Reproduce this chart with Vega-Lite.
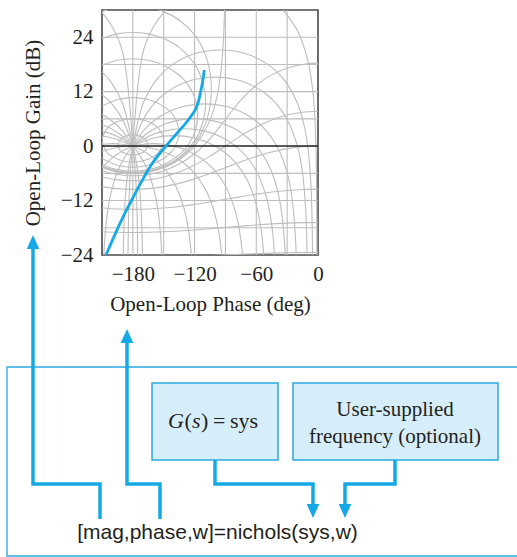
{
  "$schema": "https://vega.github.io/schema/vega-lite/v6.json",
  "width": 216,
  "height": 245,
  "autosize": {"type": "none"},
  "padding": {"left": 102, "top": 10, "right": 199, "bottom": 302},
  "background": "white",
  "config": {
    "view": {"stroke": "#4a4a4a", "strokeWidth": 1.6},
    "axis": {"labelFont": "Liberation Serif", "titleFont": "Liberation Serif", "labelColor": "#231f20", "titleColor": "#231f20", "titleFontWeight": "normal"}
  },
  "datasets": {
    "vgrid": [{"ph": -180}, {"ph": -150}, {"ph": -120}, {"ph": -90}, {"ph": -60}, {"ph": -30}],
    "hgrid": [{"db": -18}, {"db": -12}, {"db": -6}, {"db": 6}, {"db": 12}, {"db": 18}, {"db": 24}],
    "zero": [{"db": 0}],
    "contours": [
      {"c": "m-1", "ph": [-210,-195,-180,-165,-150,-135,-120,-105,-90,-75,-60,-45,-30,-15,0], "db": [-5.44,-6.27,-6.53,-6.27,-5.44,-3.96,-1.68,1.62,5.87,10.11,13.42,15.70,17.18,18.00,18.28]},
      {"c": "m-3", "ph": [-210,-195,-180,-165,-150,-135,-120,-105,-90,-75,-60,-45,-30,-15,0], "db": [-6.80,-7.44,-7.65,-7.44,-6.80,-5.71,-4.17,-2.21,0.02,2.25,4.21,5.75,6.84,7.48,7.69]},
      {"c": "m-6", "ph": [-210,-195,-180,-165,-150,-135,-120,-105,-90,-75,-60,-45,-30,-15,0], "db": [-8.93,-9.38,-9.53,-9.38,-8.93,-8.21,-7.22,-6.04,-4.74,-3.45,-2.26,-1.28,-0.55,-0.11,0.04]},
      {"c": "m-12", "ph": [-210,-195,-180,-165,-150,-135,-120,-105,-90,-75,-60,-45,-30,-15,0], "db": [-13.65,-13.87,-13.95,-13.87,-13.65,-13.30,-12.84,-12.30,-11.72,-11.13,-10.59,-10.13,-9.78,-9.56,-9.49]},
      {"c": "m-18", "ph": [-210,-195,-180,-165,-150,-135,-120,-105,-90,-75,-60,-45,-30,-15,0], "db": [-18.88,-18.99,-19.03,-18.99,-18.88,-18.71,-18.48,-18.22,-17.93,-17.64,-17.38,-17.15,-16.98,-16.87,-16.83]},
      {"c": "m-24", "ph": [-210,-195,-180,-165,-150,-135,-120,-105,-90,-75,-60,-45,-30,-15,0], "db": [-24.46,-24.51,-24.53,-24.51,-24.46,-24.37,-24.26,-24.12,-23.98,-23.84,-23.71,-23.59,-23.51,-23.45,-23.43]},
      {"c": "m0", "ph": [-210,-195,-180,-165,-150,-135,-120,-105,-100,-95,-92,-91,-90.8], "db": [-4.77,-5.72,-6.02,-5.72,-4.77,-3.01,0,5.72,9.19,15.17,23.13,29.14,31.1]},
      {"c": "m0.25", "ph": [-210,-195,-180,-165,-150,-135,-120,-110,-105,-103.7,-105,-110,-120,-135,-150,-165,-180,-195,-210], "db": [-4.60,-5.58,-5.89,-5.58,-4.60,-2.77,0.54,4.60,8.78,12.52,16.25,20.44,24.51,27.80,29.64,30.63,30.94,30.63,29.64]},
      {"c": "m0.5", "ph": [-210,-195,-180,-165,-150,-135,-120,-115,-110,-109.25,-110,-115,-120,-135,-150,-165,-180,-195,-210], "db": [-4.44,-5.47,-5.78,-5.47,-4.44,-2.50,1.15,3.26,7.27,9.63,12.00,16.01,18.12,21.77,23.71,24.73,25.05,24.73,23.71]},
      {"c": "m1", "ph": [-210,-195,-180,-165,-150,-135,-130,-125,-120,-116.97,-120,-125,-130,-135,-150,-165,-180,-195,-210], "db": [-4.10,-5.19,-5.53,-5.19,-4.10,-1.94,-0.82,0.68,2.97,6.87,10.77,13.06,14.55,15.67,17.84,18.93,19.27,18.93,17.84]},
      {"c": "m3", "ph": [-210,-195,-180,-165,-150,-145,-140,-135.07,-140,-145,-150,-165,-180,-195,-210], "db": [-2.72,-4.22,-4.65,-4.22,-2.72,-1.83,-0.53,3.02,6.57,7.87,8.76,10.26,10.69,10.26,8.76]},
      {"c": "m6", "ph": [-210,-205,-200,-195,-180,-165,-160,-155,-150,-149.9,-150,-155,-160,-165,-180,-195,-200,-205,-210,-210.1,-210], "db": [0.91,-1.41,-2.32,-2.89,-3.53,-2.89,-2.32,-1.41,0.91,1.26,1.60,3.92,4.83,5.41,6.04,5.41,4.83,3.92,1.60,1.26,0.91]},
      {"c": "m12", "ph": [-165.5,-167,-170,-180,-190,-193,-194.5,-193,-190,-180,-170,-167,-165.5], "db": [0.28,1.28,1.90,2.51,1.90,1.28,0.28,-0.72,-1.33,-1.95,-1.33,-0.72,0.28]},
      {"c": "n1", "ph": [-180,-170,-160,-150,-145,-120,-91,-60,-35,-30,-20,-10,-5,-3,-2,-1.5,-1.1,-1.06], "db": [0,20.77,26.25,29.40,30.55,34.0,35.16,33.8,30.11,28.87,25.42,19.05,12.03,6.02,0,-6.02,-20,-25]},
      {"c": "n1m", "ph": [-180,-190,-200,-210,-215], "db": [0,20.77,26.25,29.40,30.55]},
      {"c": "n5", "ph": [-180,-170,-160,-150,-140,-130,-120,-110,-95,-80,-70,-60,-50,-40,-30,-20,-15,-10,-7,-6,-5.5,-5.3], "db": [0,9.45,13.71,16.37,18.18,19.46,20.34,20.89,21.19,20.89,20.34,19.46,18.18,16.37,13.71,9.45,5.99,0,-7.95,-13.97,-19.99,-24.43]},
      {"c": "n5m", "ph": [-180,-190,-200,-210,-220], "db": [0,9.45,13.71,16.37,18.18]},
      {"c": "n10", "ph": [-180,-170,-160,-150,-140,-130,-120,-100,-80,-70,-60,-50,-40,-30,-20,-15,-12,-11,-10.6], "db": [0,5.89,9.19,11.37,12.89,13.96,14.67,15.21,14.67,13.96,12.89,11.37,9.19,5.89,0,-5.99,-13.94,-19.96,-24.39]},
      {"c": "n10m", "ph": [-180,-190,-200,-210,-220], "db": [0,5.89,9.19,11.37,12.89]},
      {"c": "n20", "ph": [-180,-170,-160,-150,-140,-130,-110,-90,-80,-70,-60,-50,-40,-30,-25,-22,-21.2], "db": [0,3.30,5.48,7.00,8.07,8.78,9.32,8.78,8.07,7.00,5.48,3.30,0,-5.89,-11.87,-19.83,-24.26]},
      {"c": "n20m", "ph": [-180,-190,-200,-210,-220], "db": [0,3.30,5.48,7.00,8.07]},
      {"c": "n30", "ph": [-180,-165,-150,-135,-120,-105,-90,-75,-60,-50,-45,-40,-35,-32,-31.8], "db": [0,3.01,4.77,5.72,6.02,5.72,4.77,3.01,0,-3.30,-5.72,-9.19,-15.17,-23.12,-24.04]},
      {"c": "n30m", "ph": [-180,-195,-210,-225], "db": [0,3.01,4.77,5.72]},
      {"c": "n40", "ph": [-180,-165,-150,-130,-110,-95,-80,-70,-60,-50,-45,-43,-42], "db": [0,2.11,3.30,3.84,3.30,2.11,0,-2.18,-5.48,-11.37,-17.35,-21.79,-25.3]},
      {"c": "n40m", "ph": [-180,-195,-210,-230], "db": [0,2.11,3.30,3.84]},
      {"c": "n50", "ph": [-180,-160,-140,-120,-100,-90,-80,-70,-65,-60,-55,-53,-52.5], "db": [0,1.78,2.32,1.78,0,-1.52,-3.71,-7.00,-9.42,-12.89,-18.88,-23.31,-24.9]},
      {"c": "n50m", "ph": [-180,-200,-210,-220], "db": [0,1.78,2.18,2.32]},
      {"c": "n70", "ph": [-180,-170,-160,-150,-140,-130,-120,-110,-100,-90,-80,-75,-73], "db": [0,0.41,0.54,0.41,0,-0.71,-1.78,-3.30,-5.48,-8.78,-14.67,-20.65,-25.1]},
      {"c": "n70m", "ph": [-180,-190,-200,-210], "db": [0,0.41,0.54,0.41]},
      {"c": "n90", "ph": [-180,-170,-160,-150,-140,-130,-120,-110,-105,-100,-96,-94,-93.5], "db": [0,-0.13,-0.54,-1.25,-2.32,-3.84,-6.02,-9.32,-11.74,-15.21,-19.62,-23.13,-24.3]},
      {"c": "n90m", "ph": [-180,-190,-200,-210], "db": [0,-0.13,-0.54,-1.25]},
      {"c": "n120", "ph": [-180,-170,-160,-150,-140,-135,-130,-126,-124,-123], "db": [0,-1.07,-2.59,-4.77,-8.07,-10.49,-13.96,-18.37,-21.88,-24.38]},
      {"c": "n120m", "ph": [-180,-190,-200,-210,-220], "db": [0,-1.07,-2.59,-4.77,-8.07]},
      {"c": "n150", "ph": [-180,-175,-170,-165,-160,-157,-155,-153,-152,-151.8], "db": [0,-1.46,-3.30,-5.72,-9.19,-12.26,-15.17,-19.60,-23.12,-24.1]},
      {"c": "n150m", "ph": [-180,-185,-190,-195,-200,-203,-205,-207,-208,-208.2], "db": [0,-1.46,-3.30,-5.72,-9.19,-12.26,-15.17,-19.60,-23.12,-24.1]},
      {"c": "n170", "ph": [-180,-178,-176,-174,-172,-171,-170.6], "db": [0,-1.92,-4.41,-7.92,-13.94,-19.96,-24.4]},
      {"c": "n170m", "ph": [-180,-182,-184,-186,-188,-189,-189.4], "db": [0,-1.92,-4.41,-7.92,-13.94,-19.96,-24.4]},
      {"c": "n175", "ph": [-180,-179,-178,-177,-176,-175.5,-175.3], "db": [0,-1.93,-4.44,-7.95,-13.97,-19.99,-24.4]},
      {"c": "n175m", "ph": [-180,-181,-182,-183,-184,-184.5,-184.7], "db": [0,-1.93,-4.44,-7.95,-13.97,-19.99,-24.4]}
    ],
    "response": [
      {"ph": -110.5, "db": 16.78}, {"ph": -113.1, "db": 13.09}, {"ph": -117.9, "db": 8.68},
      {"ph": -126.1, "db": 5.76}, {"ph": -135.8, "db": 3.18}, {"ph": -147.8, "db": 0.02},
      {"ph": -160.1, "db": -3.44}, {"ph": -169.8, "db": -7.10}, {"ph": -181.1, "db": -11.88},
      {"ph": -192.5, "db": -17.01}, {"ph": -206.1, "db": -24.0}
    ],
    "frame": [{"x": 7, "x2": 600, "y": 367, "y2": 556}],
    "boxes": [{"x": 152, "x2": 278, "y": 383, "y2": 460}, {"x": 293, "x2": 498, "y": 383, "y2": 460}],
    "paths": [
      {"p": "mag", "x": 100, "y": 519}, {"p": "mag", "x": 100, "y": 484}, {"p": "mag", "x": 33, "y": 484}, {"p": "mag", "x": 33, "y": 246},
      {"p": "phase", "x": 160, "y": 519}, {"p": "phase", "x": 160, "y": 484}, {"p": "phase", "x": 127, "y": 484}, {"p": "phase", "x": 127, "y": 340},
      {"p": "sys", "x": 215, "y": 460}, {"p": "sys", "x": 215, "y": 484}, {"p": "sys", "x": 313, "y": 484}, {"p": "sys", "x": 313, "y": 507},
      {"p": "w", "x": 395, "y": 460}, {"p": "w", "x": 395, "y": 484}, {"p": "w", "x": 345, "y": 484}, {"p": "w", "x": 345, "y": 507}
    ],
    "arrowsUp": [{"x": 33, "y": 242}, {"x": 127, "y": 336}],
    "arrowsDown": [{"x": 313, "y": 511}, {"x": 345, "y": 511}],
    "boxText": [{"t": "User-supplied", "x": 395, "y": 416}, {"t": "frequency (optional)", "x": 395, "y": 443}],
    "gsUpright": [{"t": "(", "x": 184.5, "y": 427.5}, {"t": ")", "x": 201, "y": 427.5}, {"t": "=", "x": 213, "y": 427.5}, {"t": "sys", "x": 230, "y": 427.5}],
    "gsItalic": [{"t": "G", "x": 168, "y": 427.5}, {"t": "s", "x": 192, "y": 427.5}],
    "cmd": [{"t": "[mag,phase,w]=nichols(sys,w)", "x": 217.5, "y": 538.5}]
  },
  "layer": [
    {
      "layer": [
        {
          "data": {"name": "vgrid"},
          "mark": {"type": "rule", "color": "#bdbdbd", "strokeWidth": 1.1},
          "encoding": {
            "x": {"field": "ph", "type": "quantitative", "scale": {"domain": [-210, 0], "nice": false, "zero": false}, "axis": {"title": "Open-Loop Phase (deg)", "values": [-180, -120, -60, 0], "grid": false, "ticks": false, "domain": false, "labelFontSize": 21, "labelPadding": 8, "labelFlush": false, "labelOverlap": false, "titleFontSize": 21, "titleY": 55.5, "titleBaseline": "alphabetic"}}
          }
        },
        {
          "data": {"name": "hgrid"},
          "mark": {"type": "rule", "color": "#bdbdbd", "strokeWidth": 1.1},
          "encoding": {
            "y": {"field": "db", "type": "quantitative", "scale": {"domain": [-24, 30], "nice": false, "zero": false}, "axis": {"title": "Open-Loop Gain (dB)", "values": [-24, -12, 0, 12, 24], "grid": false, "ticks": false, "domain": false, "labelFontSize": 21, "labelPadding": 9, "labelOverlap": false, "titleFontSize": 21, "titleX": -63, "titleY": 122.5, "titleAngle": 270, "titleAlign": "center", "titleBaseline": "alphabetic"}}
          }
        },
        {
          "data": {"name": "contours"},
          "transform": [{"flatten": ["ph", "db"]}],
          "mark": {"type": "line", "clip": true, "interpolate": "catmull-rom", "color": "#bdbdbd", "strokeWidth": 1.1},
          "encoding": {
            "x": {"field": "ph", "type": "quantitative", "scale": {"domain": [-210, 0], "nice": false, "zero": false}, "axis": {"title": "Open-Loop Phase (deg)", "values": [-180, -120, -60, 0], "grid": false, "ticks": false, "domain": false, "labelFontSize": 21, "labelPadding": 8, "labelFlush": false, "labelOverlap": false, "titleFontSize": 21, "titleY": 55.5, "titleBaseline": "alphabetic"}},
            "y": {"field": "db", "type": "quantitative", "scale": {"domain": [-24, 30], "nice": false, "zero": false}, "axis": {"title": "Open-Loop Gain (dB)", "values": [-24, -12, 0, 12, 24], "grid": false, "ticks": false, "domain": false, "labelFontSize": 21, "labelPadding": 9, "labelOverlap": false, "titleFontSize": 21, "titleX": -63, "titleY": 122.5, "titleAngle": 270, "titleAlign": "center", "titleBaseline": "alphabetic"}},
            "detail": {"field": "c"},
            "order": {"value": null}
          }
        },
        {
          "data": {"name": "zero"},
          "mark": {"type": "rule", "color": "#231f20", "strokeWidth": 1.5},
          "encoding": {
            "y": {"field": "db", "type": "quantitative", "scale": {"domain": [-24, 30], "nice": false, "zero": false}, "axis": {"title": "Open-Loop Gain (dB)", "values": [-24, -12, 0, 12, 24], "grid": false, "ticks": false, "domain": false, "labelFontSize": 21, "labelPadding": 9, "labelOverlap": false, "titleFontSize": 21, "titleX": -63, "titleY": 122.5, "titleAngle": 270, "titleAlign": "center", "titleBaseline": "alphabetic"}}
          }
        },
        {
          "data": {"name": "response"},
          "mark": {"type": "line", "clip": true, "interpolate": "catmull-rom", "color": "#14a9e6", "strokeWidth": 2.8},
          "encoding": {
            "x": {"field": "ph", "type": "quantitative", "scale": {"domain": [-210, 0], "nice": false, "zero": false}, "axis": {"title": "Open-Loop Phase (deg)", "values": [-180, -120, -60, 0], "grid": false, "ticks": false, "domain": false, "labelFontSize": 21, "labelPadding": 8, "labelFlush": false, "labelOverlap": false, "titleFontSize": 21, "titleY": 55.5, "titleBaseline": "alphabetic"}},
            "y": {"field": "db", "type": "quantitative", "scale": {"domain": [-24, 30], "nice": false, "zero": false}, "axis": {"title": "Open-Loop Gain (dB)", "values": [-24, -12, 0, 12, 24], "grid": false, "ticks": false, "domain": false, "labelFontSize": 21, "labelPadding": 9, "labelOverlap": false, "titleFontSize": 21, "titleX": -63, "titleY": 122.5, "titleAngle": 270, "titleAlign": "center", "titleBaseline": "alphabetic"}},
            "order": {"value": null}
          }
        }
      ]
    },
    {
      "layer": [
        {
          "data": {"name": "frame"},
          "mark": {"type": "rect", "fill": "transparent", "stroke": "#2aa9e0", "strokeWidth": 1.3},
          "encoding": {
            "x": {"field": "x", "type": "quantitative", "scale": {"domain": [102, 318], "nice": false, "zero": false}, "axis": null},
            "x2": {"field": "x2"},
            "y": {"field": "y", "type": "quantitative", "scale": {"domain": [10, 255], "nice": false, "zero": false, "reverse": true}, "axis": null},
            "y2": {"field": "y2"}
          }
        },
        {
          "data": {"name": "boxes"},
          "mark": {"type": "rect", "fill": "#d6eefa", "stroke": "#2aa9e0", "strokeWidth": 1.5},
          "encoding": {
            "x": {"field": "x", "type": "quantitative", "scale": {"domain": [102, 318], "nice": false, "zero": false}, "axis": null},
            "x2": {"field": "x2"},
            "y": {"field": "y", "type": "quantitative", "scale": {"domain": [10, 255], "nice": false, "zero": false, "reverse": true}, "axis": null},
            "y2": {"field": "y2"}
          }
        },
        {
          "data": {"name": "paths"},
          "mark": {"type": "line", "color": "#14a9e6", "strokeWidth": 3.5, "strokeJoin": "miter", "strokeCap": "butt"},
          "encoding": {
            "x": {"field": "x", "type": "quantitative", "scale": {"domain": [102, 318], "nice": false, "zero": false}, "axis": null},
            "y": {"field": "y", "type": "quantitative", "scale": {"domain": [10, 255], "nice": false, "zero": false, "reverse": true}, "axis": null},
            "detail": {"field": "p"},
            "order": {"value": null}
          }
        },
        {
          "data": {"name": "arrowsUp"},
          "mark": {"type": "point", "shape": "M0,-1L-0.9,1L0.9,1Z", "filled": true, "size": 196, "color": "#14a9e6", "opacity": 1, "strokeWidth": 0},
          "encoding": {
            "x": {"field": "x", "type": "quantitative", "scale": {"domain": [102, 318], "nice": false, "zero": false}, "axis": null},
            "y": {"field": "y", "type": "quantitative", "scale": {"domain": [10, 255], "nice": false, "zero": false, "reverse": true}, "axis": null}
          }
        },
        {
          "data": {"name": "arrowsDown"},
          "mark": {"type": "point", "shape": "M0,1L-0.9,-1L0.9,-1Z", "filled": true, "size": 196, "color": "#14a9e6", "opacity": 1, "strokeWidth": 0},
          "encoding": {
            "x": {"field": "x", "type": "quantitative", "scale": {"domain": [102, 318], "nice": false, "zero": false}, "axis": null},
            "y": {"field": "y", "type": "quantitative", "scale": {"domain": [10, 255], "nice": false, "zero": false, "reverse": true}, "axis": null}
          }
        },
        {
          "data": {"name": "boxText"},
          "mark": {"type": "text", "font": "Liberation Serif", "fontSize": 21, "align": "center", "baseline": "alphabetic", "color": "#231f20"},
          "encoding": {
            "x": {"field": "x", "type": "quantitative", "scale": {"domain": [102, 318], "nice": false, "zero": false}, "axis": null},
            "y": {"field": "y", "type": "quantitative", "scale": {"domain": [10, 255], "nice": false, "zero": false, "reverse": true}, "axis": null},
            "text": {"field": "t"}
          }
        },
        {
          "data": {"name": "gsUpright"},
          "mark": {"type": "text", "font": "Liberation Serif", "fontSize": 22, "align": "left", "baseline": "alphabetic", "color": "#231f20"},
          "encoding": {
            "x": {"field": "x", "type": "quantitative", "scale": {"domain": [102, 318], "nice": false, "zero": false}, "axis": null},
            "y": {"field": "y", "type": "quantitative", "scale": {"domain": [10, 255], "nice": false, "zero": false, "reverse": true}, "axis": null},
            "text": {"field": "t"}
          }
        },
        {
          "data": {"name": "gsItalic"},
          "mark": {"type": "text", "font": "Liberation Serif", "fontSize": 22, "fontStyle": "italic", "align": "left", "baseline": "alphabetic", "color": "#231f20"},
          "encoding": {
            "x": {"field": "x", "type": "quantitative", "scale": {"domain": [102, 318], "nice": false, "zero": false}, "axis": null},
            "y": {"field": "y", "type": "quantitative", "scale": {"domain": [10, 255], "nice": false, "zero": false, "reverse": true}, "axis": null},
            "text": {"field": "t"}
          }
        },
        {
          "data": {"name": "cmd"},
          "mark": {"type": "text", "font": "Liberation Sans", "fontSize": 21, "align": "center", "baseline": "alphabetic", "color": "#231f20"},
          "encoding": {
            "x": {"field": "x", "type": "quantitative", "scale": {"domain": [102, 318], "nice": false, "zero": false}, "axis": null},
            "y": {"field": "y", "type": "quantitative", "scale": {"domain": [10, 255], "nice": false, "zero": false, "reverse": true}, "axis": null},
            "text": {"field": "t"}
          }
        }
      ]
    }
  ],
  "resolve": {"scale": {"x": "independent", "y": "independent"}}
}
